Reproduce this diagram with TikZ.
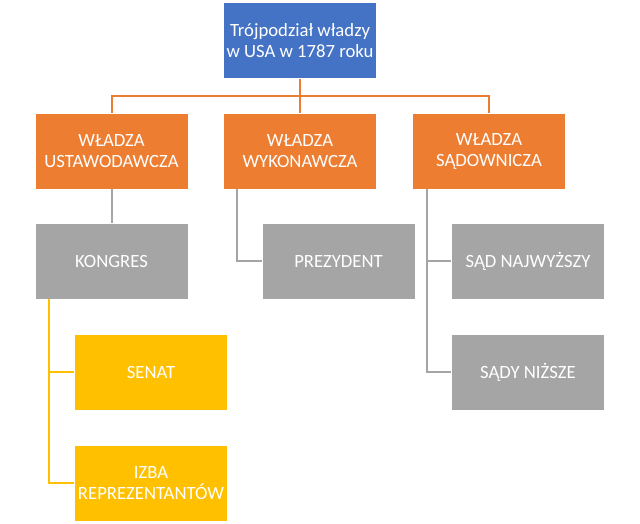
\documentclass[tikz,border=0pt]{standalone}
\usepackage{fontspec}
\setmainfont{Carlito}
\definecolor{boxblue}{HTML}{4472C4}
\definecolor{boxorange}{HTML}{ED7D31}
\definecolor{boxgray}{HTML}{A5A5A5}
\definecolor{boxyellow}{HTML}{FFC000}
\tikzset{
  box/.style={rectangle, draw=white, line width=0.4pt, text=white, align=center,
    minimum width=153pt, minimum height=76pt, inner sep=0pt,
    font=\fontsize{18.7}{21}\selectfont},
  link/.style={line width=2pt}
}
\begin{document}
\begin{tikzpicture}[x=1pt, y=1pt]
    \useasboundingbox (0,0) rectangle (640,-523);

    % top and the three branches
    \node[box, fill=boxblue] (top) at (300,-40.5) {Trójpodział władzy\\w USA w 1787 roku};
    \node[box, fill=boxorange] (ustaw) at (111.5,-151) {WŁADZA\\USTAWODAWCZA};
    \node[box, fill=boxorange] (wykon) at (300,-151) {WŁADZA\\WYKONAWCZA};
    \node[box, fill=boxorange] (sadow) at (489,-151) {WŁADZA\\SĄDOWNICZA};

    % organs
    \node[box, fill=boxgray] (kongres) at (111.5,-261) {KONGRES};
    \node[box, fill=boxgray] (prezydent) at (338.5,-261) {PREZYDENT};
    \node[box, fill=boxgray] (najwyzszy) at (528,-261) {SĄD NAJWYŻSZY};
    \node[box, fill=boxgray] (nizsze) at (528,-372) {SĄDY NIŻSZE};
    \node[box, fill=boxyellow] (senat) at (151,-372) {SENAT};
    \node[box, fill=boxyellow] (izba) at (151,-483) {IZBA\\REPREZENTANTÓW};

    \foreach \b in {ustaw,wykon,sadow}
        \draw[link, boxorange] (top.south) -- ++(0,-17.5) -| (\b.north);

    \draw[link, boxgray] (ustaw.south) -- (kongres.north);
    \draw[link, boxgray] ([xshift=-63pt]wykon.south) |- (prezydent.west);
    \foreach \s in {najwyzszy,nizsze}
        \draw[link, boxgray] ([xshift=-62pt]sadow.south) |- (\s.west);
    \foreach \s in {senat,izba}
        \draw[link, boxyellow] ([xshift=-62.5pt]kongres.south) |- (\s.west);
\end{tikzpicture}
\end{document}
